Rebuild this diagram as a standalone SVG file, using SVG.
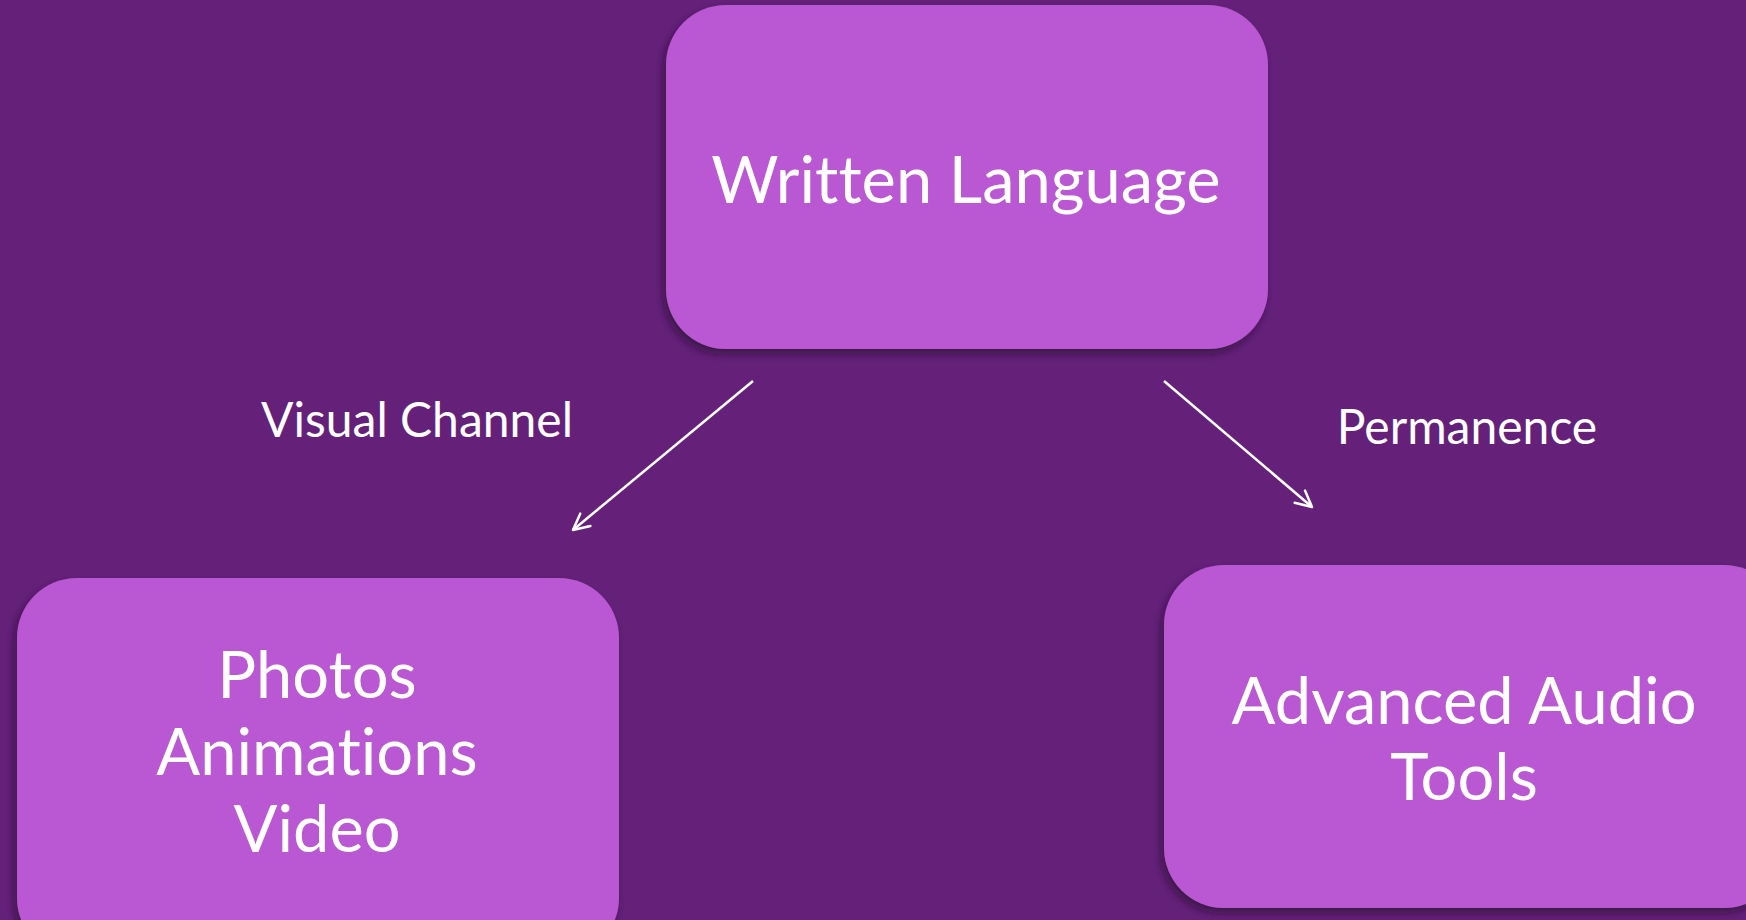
<svg xmlns="http://www.w3.org/2000/svg" width="1746" height="920" viewBox="0 0 1746 920">
<defs>
<filter id="sh" x="-10%" y="-10%" width="120%" height="125%">
<feDropShadow dx="-3" dy="5" stdDeviation="4" flood-color="#2a0a35" flood-opacity="0.7"/>
</filter>
<marker id="arr" viewBox="0 0 20 20" refX="18" refY="10" markerWidth="20" markerHeight="20" markerUnits="userSpaceOnUse" orient="auto">
<path d="M2,2 L18,10 L2,18" fill="none" stroke="#ffffff" stroke-width="2.5" stroke-linecap="round" stroke-linejoin="round"/>
</marker>
</defs>
<style>
.box{fill:#b958d2;filter:url(#sh);}
.t{font-family:Lato,"Open Sans","Noto Sans",sans-serif;fill:#ffffff;text-anchor:middle;font-variant-ligatures:none;}
.big{font-size:65px;}
.lbl{font-size:48px;}
.c{stroke:#ffffff;stroke-width:2.5;fill:none;}
</style>
<rect width="1746" height="920" fill="#65217a"/>
<g id="connectors">
<line class="c" x1="753" y1="381" x2="573" y2="530" marker-end="url(#arr)"/>
<line class="c" x1="1164" y1="381" x2="1312" y2="507" marker-end="url(#arr)"/>
</g>
<g id="label-visual"><text class="t lbl" x="417" y="437">Visual Channel</text></g>
<g id="label-permanence"><text class="t lbl" x="1467" y="444">Permanence</text></g>
<g id="written-language">
<rect class="box" x="666" y="5" width="602" height="344" rx="60"/>
<text class="t big" x="966" y="203">Written Language</text>
</g>
<g id="photos">
<rect class="box" x="17" y="578" width="602" height="380" rx="60"/>
<text class="t big" x="317" y="698">Photos</text>
<text class="t big" x="317" y="775">Animations</text>
<text class="t big" x="317" y="852">Video</text>
</g>
<g id="audio">
<rect class="box" x="1164" y="565" width="620" height="343" rx="60"/>
<text class="t big" x="1464" y="724">Advanced Audio</text>
<text class="t big" x="1464" y="800">Tools</text>
</g>
</svg>
